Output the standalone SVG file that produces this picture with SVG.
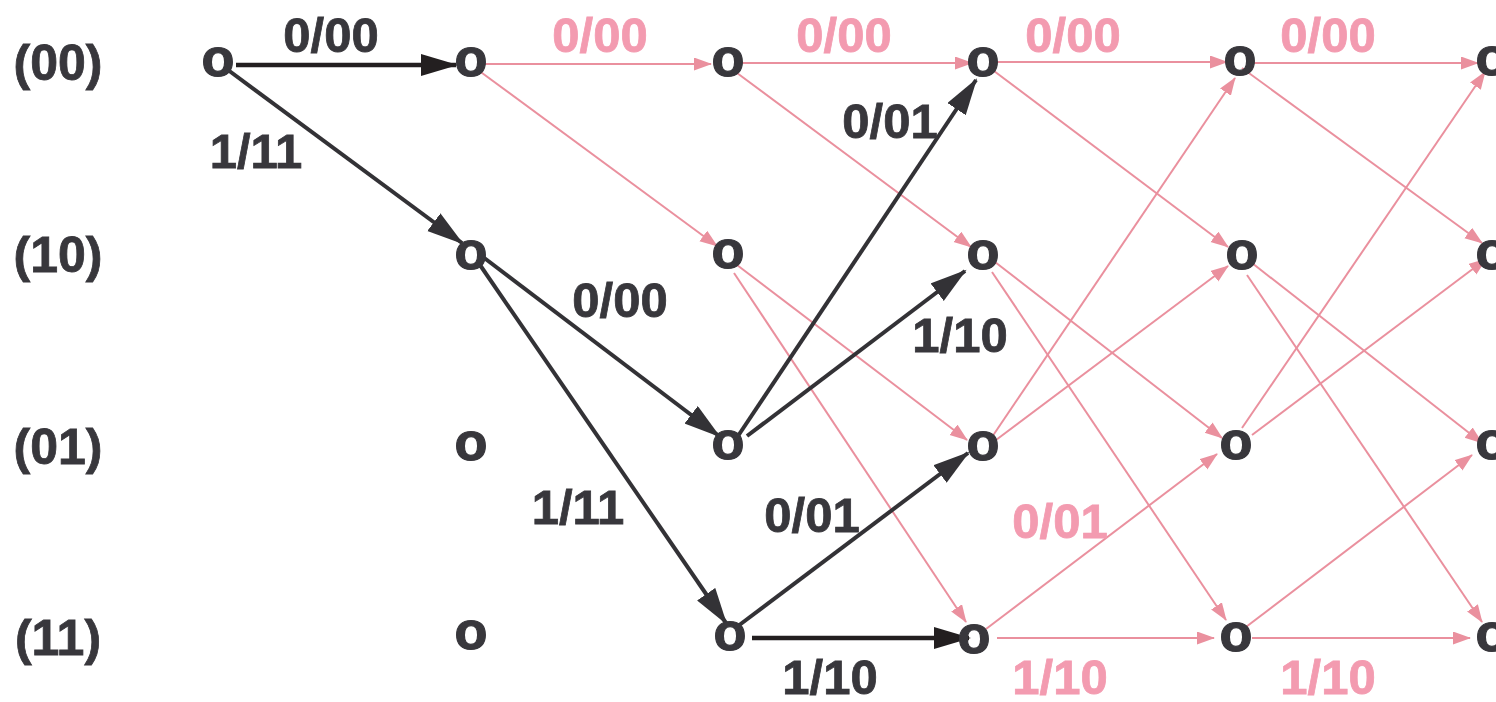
<svg xmlns="http://www.w3.org/2000/svg" width="1496" height="702" viewBox="0 0 1496 702">
<style>
.node{font-family:"Liberation Sans",Arial,sans-serif;font-weight:bold;font-size:54px;fill:#38373c;stroke:#38373c;stroke-width:1.2;text-anchor:middle}
.lbl{font-family:"Liberation Sans",Arial,sans-serif;font-weight:bold;font-size:49px;text-anchor:middle}
.dk{fill:#38373c;stroke:#38373c;stroke-width:0.8}
.pk{fill:#f39bb0;stroke:#f39bb0;stroke-width:0.8}
.row{font-family:"Liberation Sans",Arial,sans-serif;font-weight:bold;font-size:50px;fill:#38373c;stroke:#38373c;stroke-width:0.8;text-anchor:middle}
.ed{stroke:#333236;stroke-width:4;fill:none;marker-end:url(#ad)}
.eh{stroke:#231f20;stroke-width:4.5;fill:none;marker-end:url(#ah)}
.ep{stroke:#ea909e;stroke-width:2;fill:none;marker-end:url(#ap)}
</style>
<defs>
<marker id="ad" markerUnits="userSpaceOnUse" markerWidth="40" markerHeight="24" refX="35" refY="11" orient="auto"><path d="M0,0 L37,11 L0,22 z" fill="#333236"/></marker>
<marker id="ah" markerUnits="userSpaceOnUse" markerWidth="40" markerHeight="24" refX="35" refY="11" orient="auto"><path d="M0,0 L37,11 L0,22 z" fill="#231f20"/></marker>
<marker id="ap" markerUnits="userSpaceOnUse" markerWidth="20" markerHeight="14" refX="17" refY="6.5" orient="auto"><path d="M0,0 L18,6.5 L0,13 z" fill="#ea909e"/></marker>
</defs>
<g id="rows">
<text class="row" x="58" y="80">(00)</text>
<text class="row" x="58" y="272">(10)</text>
<text class="row" x="58" y="464">(01)</text>
<text class="row" x="58" y="655">(11)</text>
</g>
<g id="connectors">
<line class="ep" x1="483" y1="64" x2="711" y2="64"/>
<line class="ep" x1="478" y1="70" x2="717" y2="246"/>
<line class="ep" x1="742" y1="63" x2="972" y2="63"/>
<line class="ep" x1="733" y1="70" x2="971" y2="247"/>
<line class="ep" x1="737" y1="265" x2="967" y2="440"/>
<line class="ep" x1="734" y1="273" x2="966" y2="622"/>
<line class="ep" x1="997" y1="62" x2="1227" y2="62"/>
<line class="ep" x1="990" y1="68" x2="1228" y2="247"/>
<line class="ep" x1="995" y1="262" x2="1222" y2="438"/>
<line class="ep" x1="992" y1="272" x2="1226" y2="620"/>
<line class="ep" x1="992" y1="437" x2="1235" y2="78"/>
<line class="ep" x1="996" y1="440" x2="1228" y2="266"/>
<line class="ep" x1="986" y1="629" x2="1217" y2="454"/>
<line class="ep" x1="997" y1="638" x2="1214" y2="638"/>
<line class="ep" x1="1252" y1="63" x2="1478" y2="63"/>
<line class="ep" x1="1242" y1="68" x2="1482" y2="243"/>
<line class="ep" x1="1252" y1="263" x2="1482" y2="443"/>
<line class="ep" x1="1247" y1="275" x2="1482" y2="622"/>
<line class="ep" x1="1242" y1="428" x2="1485" y2="72"/>
<line class="ep" x1="1252" y1="435" x2="1486" y2="259"/>
<line class="ep" x1="1242" y1="630" x2="1472" y2="455"/>
<line class="ep" x1="1252" y1="638" x2="1470" y2="638"/>
<line class="eh" x1="236" y1="65" x2="456" y2="65"/>
<line class="ed" x1="224" y1="67" x2="462" y2="243"/>
<line class="ed" x1="483" y1="257" x2="719" y2="436"/>
<line class="ed" x1="480" y1="265" x2="726" y2="623"/>
<line class="ed" x1="738" y1="436" x2="976" y2="80"/>
<line class="ed" x1="747" y1="436" x2="965" y2="271"/>
<line class="ed" x1="738" y1="626" x2="968" y2="453"/>
<line class="eh" x1="752" y1="638" x2="969" y2="638"/>
</g>
<g id="labels">
<text class="lbl dk" x="331" y="52">0/00</text>
<text class="lbl dk" x="256" y="168">1/11</text>
<text class="lbl pk" x="600" y="52">0/00</text>
<text class="lbl pk" x="844" y="52">0/00</text>
<text class="lbl pk" x="1073" y="52">0/00</text>
<text class="lbl pk" x="1328" y="52">0/00</text>
<text class="lbl dk" x="890" y="138">0/01</text>
<text class="lbl dk" x="620" y="317">0/00</text>
<text class="lbl dk" x="960" y="352">1/10</text>
<text class="lbl dk" x="578" y="524">1/11</text>
<text class="lbl dk" x="812" y="532">0/01</text>
<text class="lbl pk" x="1060" y="538">0/01</text>
<text class="lbl dk" x="830" y="694">1/10</text>
<text class="lbl pk" x="1060" y="694">1/10</text>
<text class="lbl pk" x="1328" y="694">1/10</text>
</g>
<g id="n0_00"><text class="node" x="218" y="76">o</text></g>
<g id="n1_00"><text class="node" x="471" y="76">o</text></g>
<g id="n1_10"><text class="node" x="471" y="269">o</text></g>
<g id="n1_01"><text class="node" x="471" y="460">o</text></g>
<g id="n1_11"><text class="node" x="471" y="649">o</text></g>
<g id="n2_00"><text class="node" x="728" y="76">o</text></g>
<g id="n2_10"><text class="node" x="728" y="268">o</text></g>
<g id="n2_01"><text class="node" x="728" y="459">o</text></g>
<g id="n2_11"><text class="node" x="730" y="650">o</text></g>
<g id="n3_00"><text class="node" x="983" y="76">o</text></g>
<g id="n3_10"><text class="node" x="983" y="269">o</text></g>
<g id="n3_01"><text class="node" x="983" y="460">o</text></g>
<g id="n3_11"><text class="node" x="974" y="653">o</text></g>
<g id="n4_00"><text class="node" x="1240" y="75">o</text></g>
<g id="n4_10"><text class="node" x="1242" y="269">o</text></g>
<g id="n4_01"><text class="node" x="1236" y="459">o</text></g>
<g id="n4_11"><text class="node" x="1236" y="651">o</text></g>
<g id="n5_00"><text class="node" x="1492" y="75">o</text></g>
<g id="n5_10"><text class="node" x="1492" y="269">o</text></g>
<g id="n5_01"><text class="node" x="1492" y="459">o</text></g>
<g id="n5_11"><text class="node" x="1492" y="651">o</text></g>
</svg>
